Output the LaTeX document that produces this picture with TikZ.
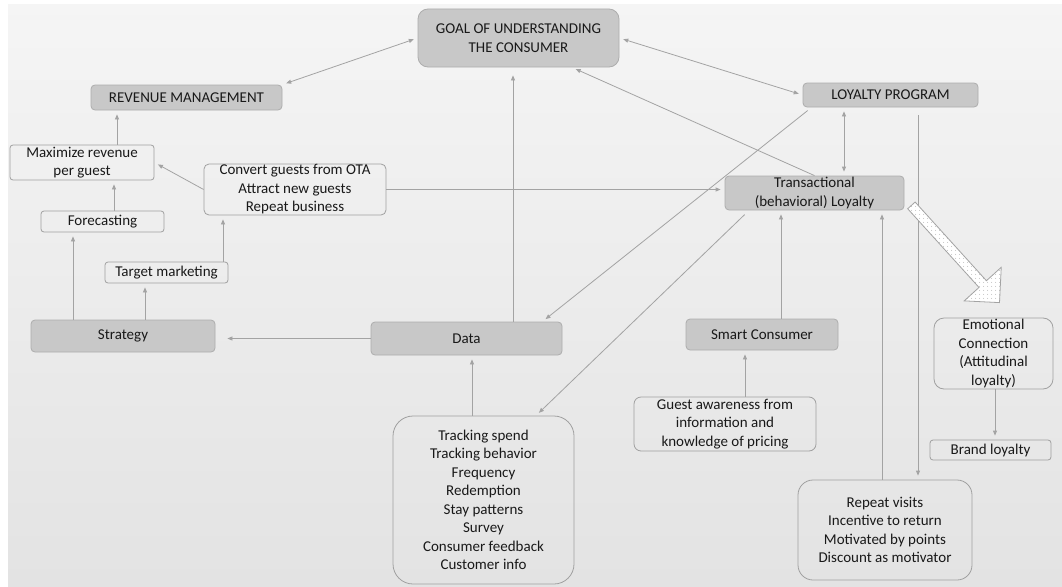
\documentclass[tikz,border=0pt]{standalone}
\usepackage{fontspec}
\setmainfont{Carlito}
\usetikzlibrary{arrows.meta,calc,patterns.meta}
\definecolor{boxgray}{HTML}{C8C8C8}
\definecolor{headline}{HTML}{ADADAD}
\definecolor{noteline}{HTML}{A0A0A0}
\definecolor{linkgray}{HTML}{A3A3A3}

\begin{document}
\begin{tikzpicture}[x=1pt,y=-1pt,
    font=\fontsize{15}{18.5}\selectfont,
    every node/.style={align=center,text=black!90,inner sep=0pt},
    head/.style={draw=headline,line width=0.8pt,fill=boxgray,rounded corners=4pt},
    note/.style={draw=noteline,line width=0.8pt,rounded corners=3pt},
    link/.style={draw=linkgray,line width=0.8pt,-{Triangle[length=5pt,width=4pt]},shorten >=4pt},
    both/.style={link,{Triangle[length=5pt,width=4pt]}-{Triangle[length=5pt,width=4pt]},shorten <=4pt},
  ]
  % page and background
  \useasboundingbox (0,0) rectangle (1062,586);
  \fill[white] (0,0) rectangle (1062,586);
  \shade[top color=black!4,middle color=black!15,bottom color=black!11] (8,5) rectangle (1062,586);

  % main boxes
  \node[head,minimum width=201pt,minimum height=58pt,rounded corners=10pt] (goal) at (518.5,38) {GOAL OF UNDERSTANDING\\THE CONSUMER};
  \node[head,minimum width=191pt,minimum height=25pt] (rev) at (186.5,97.5) {REVENUE MANAGEMENT};
  \node[head,minimum width=175pt,minimum height=24pt] (loyal) at (890.5,95) {LOYALTY PROGRAM};
  \node[head,minimum width=179pt,minimum height=34pt] (trans) at (814.5,193) {Transactional\\(behavioral) Loyalty};
  \node[head,minimum width=184pt,minimum height=32pt] (strategy) at (123,336) {Strategy};
  \node[head,minimum width=191pt,minimum height=33pt] (data) at (466.5,338.5) {Data};
  \node[head,minimum width=152pt,minimum height=31pt] (smart) at (762,334.5) {Smart Consumer};

  % detail boxes
  \node[note,minimum width=144pt,minimum height=35pt] (maxrev) at (82,162.5) {Maximize revenue\\per guest};
  \node[note,minimum width=123pt,minimum height=21pt] (forecast) at (102.5,221.5) {Forecasting};
  \node[note,minimum width=182pt,minimum height=51pt,rounded corners=5pt] (convert) at (295,189.5) {Convert guests from OTA\\Attract new guests\\Repeat business};
  \node[note,minimum width=123pt,minimum height=21pt] (target) at (166.5,272.5) {Target marketing};
  \node[note,minimum width=181pt,minimum height=168pt,rounded corners=20pt] (datalist) at (483.5,500) {Tracking spend\\Tracking behavior\\Frequency\\Redemption\\Stay patterns\\Survey\\Consumer feedback\\Customer info};
  \node[note,minimum width=182pt,minimum height=54pt,rounded corners=7pt] (guest) at (725,424) {Guest awareness from\\information and\\knowledge of pricing};
  \node[note,minimum width=174pt,minimum height=100pt,rounded corners=15pt] (repeat) at (885,530) {Repeat visits\\Incentive to return\\Motivated by points\\Discount as motivator};
  \node[note,minimum width=119pt,minimum height=71pt,rounded corners=10pt] (emo) at (993.5,353.5) {Emotional\\Connection\\(Attitudinal\\loyalty)};
  \node[note,minimum width=121pt,minimum height=20pt] (brand) at (990.5,450) {Brand loyalty};

  % connectors
  \draw[both] (rev.north east) -- (goal.west);
  \draw[both] (goal.east) -- (loyal.west);
  \draw[link] (trans.north) -- (goal.south -| 572,0);
  \draw[both] (loyal.south -| 844,0) -- (trans.north -| 844,0);
  \draw[link,shorten <=5pt] ([xshift=9pt]loyal.south west) -- ([xshift=-20pt]data.north east);
  \draw[link,shorten <=6pt] (trans.south -| 749,0) -- (datalist.north -| 536,0);
  \draw[link] (convert.east) -- (convert.east -| trans.west);
  \draw[link] (convert.west) -- (maxrev.east);
  \draw[link] (maxrev.north -| 117,0) -- (rev.south -| 117,0);
  \draw[link] (forecast.north -| 114,0) -- (maxrev.south -| 114,0);
  \draw[link] (strategy.north -| 73,0) -- (forecast.south -| 73,0);
  \draw[link] (strategy.north -| 145,0) -- (target.south -| 145,0);
  \draw[link] (target.north -| 223,0) -- (convert.south -| 223,0);
  \draw[link,shorten >=12pt] (data.west) -- (data.west -| strategy.east);
  \draw[link,shorten >=8pt] (data.north -| 513,0) -- (goal.south -| 513,0);
  \draw[link] (datalist.north -| 472,0) -- (data.south -| 472,0);
  \draw[link] (guest.north -| 745,0) -- (smart.south -| 745,0);
  \draw[link] (smart.north -| 781,0) -- (trans.south -| 781,0);
  \draw[link] (repeat.north -| 882,0) -- (trans.south -| 882,0);
  \draw[link,shorten <=8pt] (loyal.south -| 918,0) -- (repeat.north -| 918,0);
  \draw[link] (emo.south -| 995,0) -- (brand.north -| 995,0);

  % block arrow to the emotional side
  \coordinate (ba) at ([shift={(7pt,5pt)}]trans.south east);
  \coordinate (bt) at ([shift={(6pt,15pt)}]emo.north);
  \coordinate (hb) at ($(bt)!25pt!(ba)$);
  \draw[draw=linkgray,line width=0.8pt,preaction={fill=white},
        pattern={Dots[distance=4pt,radius=0.5pt]},pattern color=black!35]
    ($(ba)!5pt!90:(bt)$) -- ($(hb)!5pt!90:(bt)$) -- ($(hb)!25pt!90:(bt)$) -- (bt)
    -- ($(hb)!25pt!-90:(bt)$) -- ($(hb)!5pt!-90:(bt)$) -- ($(ba)!5pt!-90:(bt)$) -- cycle;
\end{tikzpicture}
\end{document}
